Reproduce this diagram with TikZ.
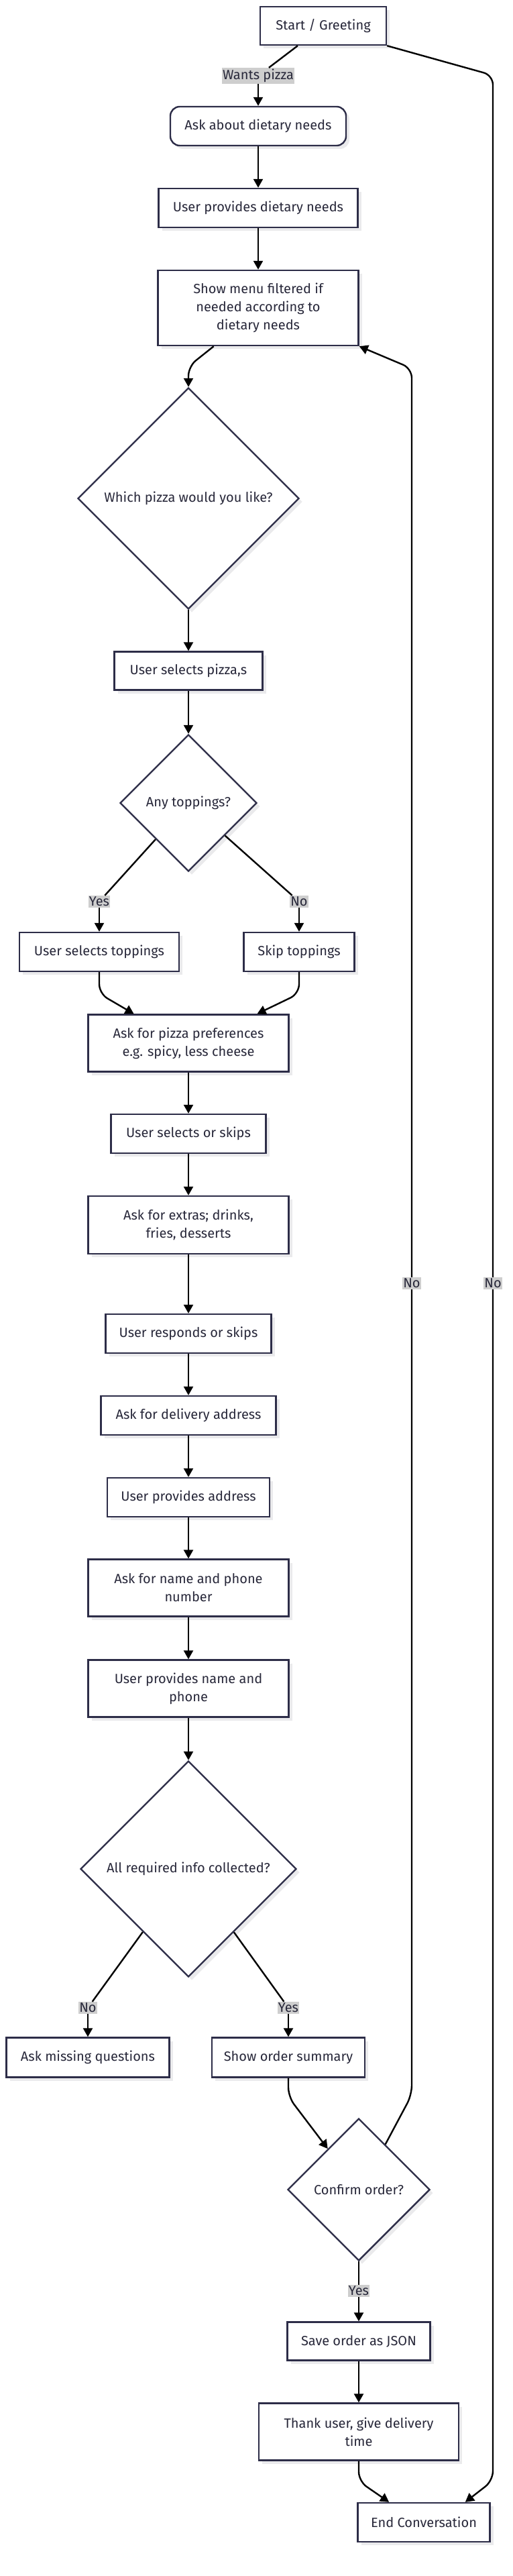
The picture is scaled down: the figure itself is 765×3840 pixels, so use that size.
\documentclass[tikz,border=0pt]{standalone}
\usepackage{fontspec}
\setmainfont{Fira Sans}
\usetikzlibrary{arrows.meta,shapes.geometric,calc,shadows}
\definecolor{fc_line}{RGB}{45, 45, 72}
\definecolor{fc_text}{RGB}{40, 40, 58}
\definecolor{fc_lbl}{RGB}{206, 206, 206}
\definecolor{fc_shadow}{RGB}{234, 234, 236}
\tikzstyle{box}=[rectangle,draw=fc_line,fill=white,line width=2.4pt,text=fc_text,
  align=center,inner sep=0pt,minimum height=57pt,font=\fontsize{20}{27}\selectfont,
  drop shadow={shadow xshift=5pt,shadow yshift=-5pt,fill=fc_shadow,opacity=1}]
\tikzstyle{rbox}=[box,rounded corners=14pt]
\tikzstyle{dec}=[diamond,aspect=1,draw=fc_line,fill=white,line width=2.4pt,text=fc_text,
  inner sep=0pt,font=\fontsize{20}{27}\selectfont,
  drop shadow={shadow xshift=5pt,shadow yshift=-5pt,fill=fc_shadow,opacity=1}]
\tikzstyle{lbl}=[fill=fc_lbl,text=fc_text,inner xsep=1pt,inner ysep=2pt,
  font=\fontsize{20}{27}\selectfont]
\tikzstyle{ln}=[draw=black,line width=2.4pt,rounded corners=14pt]
\tikzstyle{arr}=[ln,-{Triangle[length=13pt,width=14pt]}]

\begin{document}
\begin{tikzpicture}[x=1pt,y=-1pt]
            \path [use as bounding box,fill=white] (0, 0) rectangle (765, 3840);
            \node [style=box, minimum width=188pt] (0) at (482, 38.5) {Start / Greeting};
            \node [style=lbl] (1) at (385, 113) {Wants pizza};
            \node [style=rbox, minimum width=262pt, minimum height=58pt] (2) at (385, 188) {Ask about dietary needs};
            \node [style=box, minimum width=297pt, minimum height=58pt] (3) at (385, 310) {User provides dietary needs};
            \node [style=box, minimum width=299pt, minimum height=112pt] (4) at (385, 459) {Show menu filtered if\\needed according to\\dietary needs};
            \node [style=dec, minimum size=330pt] (5) at (281, 743) {Which pizza would you like?};
            \node [style=box, minimum width=221pt] (6) at (281, 1000) {User selects pizza,s};
            \node [style=dec, minimum size=204pt] (7) at (281, 1197) {Any toppings?};
            \node [style=lbl] (8) at (148, 1344) {Yes};
            \node [style=lbl] (9) at (446, 1344) {No};
            \node [style=box, minimum width=238pt, minimum height=58pt] (10) at (148, 1419) {User selects toppings};
            \node [style=box, minimum width=165pt, minimum height=58pt] (11) at (446, 1419) {Skip toppings};
            \node [style=box, minimum width=299pt, minimum height=85pt] (12) at (281, 1555) {Ask for pizza preferences\\e.g. spicy, less cheese};
            \node [style=box, minimum width=231pt, minimum height=58pt] (13) at (281, 1690) {User selects or skips};
            \node [style=box, minimum width=299pt, minimum height=86pt] (14) at (281, 1826) {Ask for extras; drinks,\\fries, desserts};
            \node [style=box, minimum width=247pt, minimum height=58pt] (15) at (281, 1988) {User responds or skips};
            \node [style=box, minimum width=261pt, minimum height=58pt] (16) at (281, 2110) {Ask for delivery address};
            \node [style=box, minimum width=242pt, minimum height=58pt] (17) at (281, 2232) {User provides address};
            \node [style=box, minimum width=299pt, minimum height=85pt] (18) at (281, 2367) {Ask for name and phone\\number};
            \node [style=box, minimum width=299pt, minimum height=85pt] (19) at (281, 2517) {User provides name and\\phone};
            \node [style=dec, minimum size=322pt] (20) at (281, 2786) {All required info collected?};
            \node [style=lbl] (21) at (131, 2993) {No};
            \node [style=lbl] (22) at (430, 2993) {Yes};
            \node [style=box, minimum width=243pt, minimum height=59pt] (23) at (131, 3067) {Ask missing questions};
            \node [style=box, minimum width=228pt, minimum height=59pt] (24) at (430, 3067) {Show order summary};
            \node [style=dec, minimum size=212pt] (25) at (535, 3264) {Confirm order?};
            \node [style=lbl] (26) at (535, 3415) {Yes};
            \node [style=box, minimum width=213pt] (27) at (535, 3490) {Save order as JSON};
            \node [style=box, minimum width=298pt, minimum height=85pt] (28) at (535, 3625) {Thank user, give delivery\\time};
            \node [style=box, minimum width=197pt, minimum height=58pt] (29) at (632, 3760) {End Conversation};
            \node [style=lbl] (30) at (614, 1913) {No};
            \node [style=lbl] (31) at (735, 1913) {No};
            \draw [style=ln] ($(0.south west)!0.3!(0.south east)$) to (1);
            \draw [style=arr] (1) to (2);
            \draw [style=arr] (2) to (3);
            \draw [style=arr] (3) to (4);
            \draw [style=arr] ($(4.south west)!0.28!(4.south east)$) -- ([yshift=-30pt]4.south -| 5.north) -- (5.north);
            \draw [style=arr] (5) to (6);
            \draw [style=arr] (6) to (7);
            \draw [style=ln] (7) to (8);
            \draw [style=arr] (8) to (10);
            \draw [style=ln] (7) to (9);
            \draw [style=arr] (9) to (11);
            \draw [style=arr] (10.south) -- ([yshift=-32pt]10.south) -- ($(12.north west)!0.23!(12.north east)$);
            \draw [style=arr] (11.south) -- ([yshift=-32pt]11.south) -- ($(12.north west)!0.84!(12.north east)$);
            \draw [style=arr] (12) to (13);
            \draw [style=arr] (13) to (14);
            \draw [style=arr] (14) to (15);
            \draw [style=arr] (15) to (16);
            \draw [style=arr] (16) to (17);
            \draw [style=arr] (17) to (18);
            \draw [style=arr] (18) to (19);
            \draw [style=arr] (19) to (20);
            \draw [style=ln] (20) to (21);
            \draw [style=arr] (21) to (23);
            \draw [style=ln] (20) to (22);
            \draw [style=arr] (22) to (24);
            \draw [style=arr] (24.south) -- ([yshift=-28pt]24.south) -- (25);
            \draw [style=ln] ($(25.north)!0.37!(25.east)$) -- ([yshift=34pt]30 |- 25.north) -- (30);
            \draw [style=arr] (30) -- ([yshift=-33pt]30 |- 4.south) -- (4.south east);
            \draw [style=ln] (0.south east) -- ([yshift=-44pt]31 |- 0.south) -- (31);
            \draw [style=arr] (31) -- ([yshift=32pt]31 |- 29.north) -- ($(29.north west)!0.81!(29.north east)$);
            \draw [style=ln] (25) to (26);
            \draw [style=arr] (26) to (27);
            \draw [style=arr] (27) to (28);
            \draw [style=arr] (28.south) -- ([yshift=-30pt]28.south) -- ($(29.north west)!0.24!(29.north east)$);
    \end{tikzpicture}
\end{document}
